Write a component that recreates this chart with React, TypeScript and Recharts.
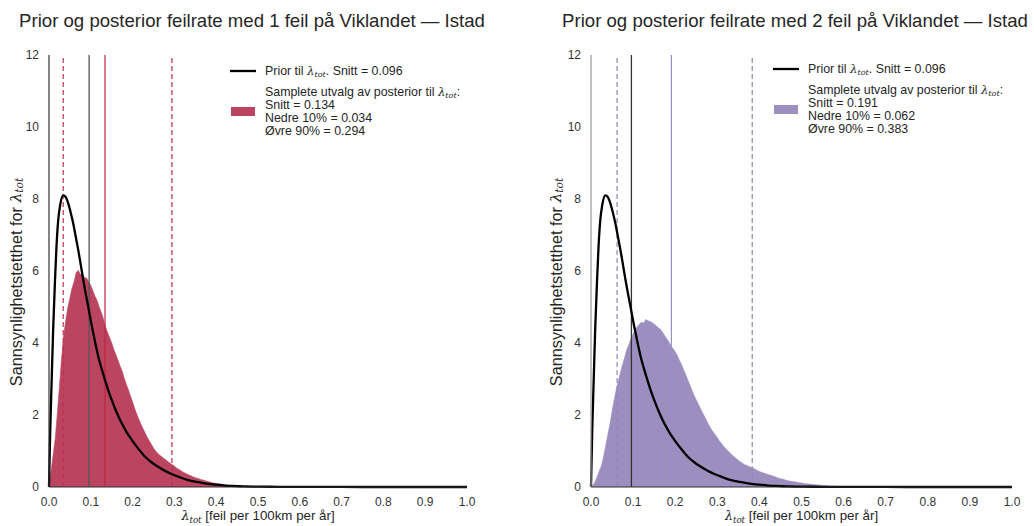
import React from 'react';
import { ComposedChart, XAxis, YAxis, Area, Line, ReferenceLine } from 'recharts';

const FONT = '"Liberation Sans", Arial, Helvetica, sans-serif';

// Histogram bin width (posterior samples)
const BIN_WIDTH = 0.005;

// Posterior density, 1 failure (bins of 0.005 starting at 0)
const POST1_DENSITY = [
  0.10, 0.45, 0.90, 1.35, 2.05, 2.80, 3.55, 4.20, 4.62, 4.98,
  5.25, 5.52, 5.70, 5.95, 6.02, 5.90, 5.92, 5.82, 5.80, 5.70,
  5.60, 5.45, 5.30, 5.18, 5.00, 4.85, 4.68, 4.45, 4.30, 4.15,
  4.00, 3.82, 3.68, 3.52, 3.36, 3.22, 3.02, 2.85, 2.70, 2.52,
  2.36, 2.18, 2.02, 1.88, 1.74, 1.62, 1.50, 1.38, 1.28, 1.18,
  1.08, 1.00, 0.94, 0.88, 0.84, 0.79, 0.75, 0.70, 0.66, 0.62,
  0.58, 0.53, 0.49, 0.46, 0.42, 0.39, 0.36, 0.33, 0.31, 0.28,
  0.26, 0.24, 0.22, 0.20, 0.19, 0.17, 0.15, 0.14, 0.12, 0.11,
  0.10, 0.09, 0.08, 0.07, 0.06, 0.055, 0.05, 0.045, 0.04, 0.035,
  0.03, 0.025, 0.02, 0.02, 0.015, 0.012, 0.01, 0.008, 0.006, 0.005,
  0,
];

// Posterior density, 2 failures
const POST2_DENSITY = [
  0.00, 0.05, 0.15, 0.30, 0.45, 0.60, 0.85, 1.15, 1.45, 1.75,
  2.10, 2.42, 2.70, 2.95, 3.18, 3.40, 3.60, 3.82, 3.95, 4.12,
  4.25, 4.38, 4.45, 4.52, 4.58, 4.55, 4.65, 4.62, 4.60, 4.57,
  4.52, 4.48, 4.42, 4.38, 4.30, 4.20, 4.12, 4.03, 3.92, 3.84,
  3.76, 3.65, 3.52, 3.40, 3.26, 3.12, 2.97, 2.83, 2.68, 2.54,
  2.42, 2.30, 2.18, 2.06, 1.95, 1.83, 1.72, 1.62, 1.53, 1.45,
  1.37, 1.28, 1.21, 1.13, 1.07, 1.01, 0.95, 0.89, 0.84, 0.79,
  0.74, 0.70, 0.66, 0.62, 0.60, 0.57, 0.55, 0.52, 0.49, 0.46,
  0.43, 0.41, 0.39, 0.37, 0.35, 0.33, 0.31, 0.29, 0.27, 0.25,
  0.23, 0.22, 0.20, 0.18, 0.17, 0.16, 0.15, 0.14, 0.13, 0.12,
  0.11, 0.10, 0.09, 0.085, 0.08, 0.07, 0.065, 0.06, 0.055, 0.05,
  0.045, 0.04, 0.035, 0.03, 0.027, 0.024, 0.02, 0.018, 0.015, 0.012,
  0.01, 0.008, 0.006, 0.004, 0,
];

// Prior density curve (same in both panels)
const PRIOR_X = [
  0, 0.003, 0.0064, 0.01, 0.0144, 0.018, 0.022, 0.027, 0.034, 0.040,
  0.046, 0.052, 0.058, 0.064, 0.070, 0.076, 0.082, 0.088, 0.094, 0.100,
  0.106, 0.112, 0.118, 0.126, 0.134, 0.142, 0.150, 0.162, 0.174, 0.186,
  0.198, 0.214, 0.230, 0.246, 0.261, 0.277, 0.293, 0.313, 0.333, 0.353,
  0.373, 0.400, 0.420, 0.450, 0.467, 0.500, 0.550, 0.600, 0.700, 0.800, 1.0,
];
const PRIOR_Y = [
  0, 1.6, 2.97, 4.4, 5.75, 6.7, 7.41, 7.85, 8.1, 8.05,
  7.88, 7.62, 7.32, 6.95, 6.58, 6.17, 5.75, 5.36, 5.0, 4.62,
  4.27, 3.93, 3.62, 3.28, 2.97, 2.68, 2.42, 2.07, 1.77, 1.52,
  1.31, 1.06, 0.84, 0.68, 0.56, 0.45, 0.36, 0.27, 0.19, 0.14,
  0.10, 0.065, 0.04, 0.025, 0.015, 0.01, 0.005, 0.003, 0.001, 0, 0,
];

const PRIOR_MEAN = 0.096;
// [mean, lower 10%, upper 90%]
const POST1_STATS = [0.134, 0.034, 0.294];
const POST2_STATS = [0.191, 0.062, 0.383];

const X_TICKS = [0, 0.1, 0.2, 0.3, 0.4, 0.5, 0.6, 0.7, 0.8, 0.9, 1.0];
const Y_TICKS = [0, 2, 4, 6, 8, 10, 12];

const TITLES = [
  'Prior og posterior feilrate med 1 feil på Viklandet — Istad',
  'Prior og posterior feilrate med 2 feil på Viklandet — Istad',
];

const toHist = (arr: number[]) => arr.map((y, i) => ({ x: +(i * BIN_WIDTH).toFixed(3), y }));
const PRIOR_DATA = PRIOR_X.map((x, i) => ({ x, y: PRIOR_Y[i] }));

const Lambda = ({ size }: { size: number }) => (
  <>
    <tspan fontStyle="italic" fontFamily='"DejaVu Serif", serif' fontSize={size * 0.95}>λ</tspan>
    <tspan fontStyle="italic" fontFamily='"DejaVu Serif", serif' fontSize={size * 0.65} dy={size * 0.2}>tot</tspan>
  </>
);

type PanelProps = {
  left: number;
  width: number;
  rightMargin: number;
  yAxisWidth: number;
  hist: number[];
  stats: number[];
  fill: string;
  meanColor: string;
  dashColor: string;
  priorLineColor: string;
  leftSpine: string;
};

const Panel = (p: PanelProps) => {
  const histData = toHist(p.hist);
  return (
    <div style={{ position: 'absolute', left: p.left, top: 0, width: p.width, height: 526 }}>
      <ComposedChart
        width={p.width}
        height={526}
        margin={{ top: 55, right: p.rightMargin, left: 0, bottom: 0 }}
        style={{ fontFamily: FONT }}
      >
        <XAxis
          type="number"
          dataKey="x"
          domain={[0, 1]}
          ticks={X_TICKS}
          interval={0}
          tickFormatter={(v: number) => v.toFixed(1)}
          tickLine={false}
          axisLine={{ stroke: '#333', strokeWidth: 1.2 }}
          tick={{ fill: '#333', fontSize: 12, fontFamily: FONT }}
          tickMargin={4}
          height={39}
          label={{
            content: (props: any) => {
              const vb = props.viewBox || { x: 0, y: 0, width: 0 };
              return (
                <text
                  x={vb.x + vb.width / 2}
                  y={vb.y + 33}
                  textAnchor="middle"
                  fontSize={13.3}
                  fontFamily={FONT}
                  fill="#262626"
                >
                  <Lambda size={13.3} />
                  <tspan dy={-13.3 * 0.2}> [feil per 100km per år]</tspan>
                </text>
              );
            },
          }}
        />
        <YAxis
          type="number"
          domain={[0, 12]}
          ticks={Y_TICKS}
          interval={0}
          width={p.yAxisWidth}
          tickLine={false}
          axisLine={{ stroke: p.leftSpine, strokeWidth: 1.2 }}
          tick={{ fill: '#333', fontSize: 12, fontFamily: FONT }}
          tickMargin={4}
          label={{
            content: (props: any) => {
              const vb = props.viewBox || { x: 0, y: 0, height: 0 };
              const cx = 16;
              const cy = vb.y + vb.height / 2 + 11;
              return (
                <text
                  x={cx}
                  y={cy}
                  transform={`rotate(-90, ${cx}, ${cy})`}
                  textAnchor="middle"
                  dominantBaseline="central"
                  fontSize={16.3}
                  fontFamily={FONT}
                  fill="#262626"
                >
                  <tspan>Sannsynlighetstetthet for </tspan>
                  <Lambda size={16.3} />
                </text>
              );
            },
          }}
        />
        <Area
          data={histData}
          dataKey="y"
          type="linear"
          fill={p.fill}
          fillOpacity={1}
          stroke={p.fill}
          strokeWidth={0.6}
          isAnimationActive={false}
          dot={false}
          activeDot={false}
        />
        <ReferenceLine x={p.stats[1]} stroke={p.dashColor} strokeWidth={1.2} strokeDasharray="5 3" />
        <ReferenceLine x={p.stats[2]} stroke={p.dashColor} strokeWidth={1.2} strokeDasharray="5 3" />
        <ReferenceLine x={PRIOR_MEAN} stroke={p.priorLineColor} strokeWidth={1.3} />
        <ReferenceLine x={p.stats[0]} stroke={p.meanColor} strokeWidth={1.2} />
        <Line
          data={PRIOR_DATA}
          dataKey="y"
          type="monotone"
          stroke="#000"
          strokeWidth={2.3}
          dot={false}
          activeDot={false}
          isAnimationActive={false}
        />
      </ComposedChart>
    </div>
  );
};

const LegendBlock = ({ x, y, color, stats }: { x: number; y: number; color: string; stats: number[] }) => {
  const fs = 12.4;
  return (
    <g fontFamily={FONT} fontSize={fs} fill="#262626">
      <line x1={x} x2={x + 26} y1={y - 4} y2={y - 4} stroke="#000" strokeWidth={2.3} />
      <text x={x + 35} y={y}>
        <tspan>Prior til </tspan>
        <Lambda size={fs} />
        <tspan dy={-fs * 0.2}>. Snitt = {PRIOR_MEAN.toFixed(3)}</tspan>
      </text>
      <rect x={x + 1} y={y + 32} width={24} height={9} fill={color} />
      <text x={x + 35} y={y + 21}>
        <tspan>Samplete utvalg av posterior til </tspan>
        <Lambda size={fs} />
        <tspan dy={-fs * 0.2}>:</tspan>
      </text>
      <text x={x + 35} y={y + 34}>Snitt = {stats[0].toFixed(3)}</text>
      <text x={x + 35} y={y + 47}>Nedre 10% = {stats[1].toFixed(3)}</text>
      <text x={x + 35} y={y + 60}>Øvre 90% = {stats[2].toFixed(3)}</text>
    </g>
  );
};

export default function App() {
  return (
    <div style={{ position: 'absolute', left: 0, top: 0, width: 1034, height: 526, background: '#fff', overflow: 'hidden' }}>
      <Panel
        left={0}
        width={520}
        rightMargin={53}
        yAxisWidth={49}
        hist={POST1_DENSITY}
        stats={POST1_STATS}
        fill="#BB4560"
        meanColor="#C0223F"
        dashColor="#C0304F"
        priorLineColor="#555"
        leftSpine="#333"
      />
      <Panel
        left={540}
        width={494}
        rightMargin={22}
        yAxisWidth={51}
        hist={POST2_DENSITY}
        stats={POST2_STATS}
        fill="#9C8FC0"
        meanColor="#9A8EC6"
        dashColor="#8E88B0"
        priorLineColor="#333"
        leftSpine="#999"
      />
      <svg
        width={1034}
        height={526}
        style={{ position: 'absolute', left: 0, top: 0, pointerEvents: 'none' }}
      >
        <text x={252} y={27} textAnchor="middle" fontFamily={FONT} fontSize={18.6} fill="#262626">
          {TITLES[0]}
        </text>
        <text x={795} y={27} textAnchor="middle" fontFamily={FONT} fontSize={18.6} fill="#262626">
          {TITLES[1]}
        </text>
        <LegendBlock x={230} y={75} color="#BB4560" stats={POST1_STATS} />
        <LegendBlock x={773} y={73} color="#9C8FC0" stats={POST2_STATS} />
      </svg>
    </div>
  );
}
